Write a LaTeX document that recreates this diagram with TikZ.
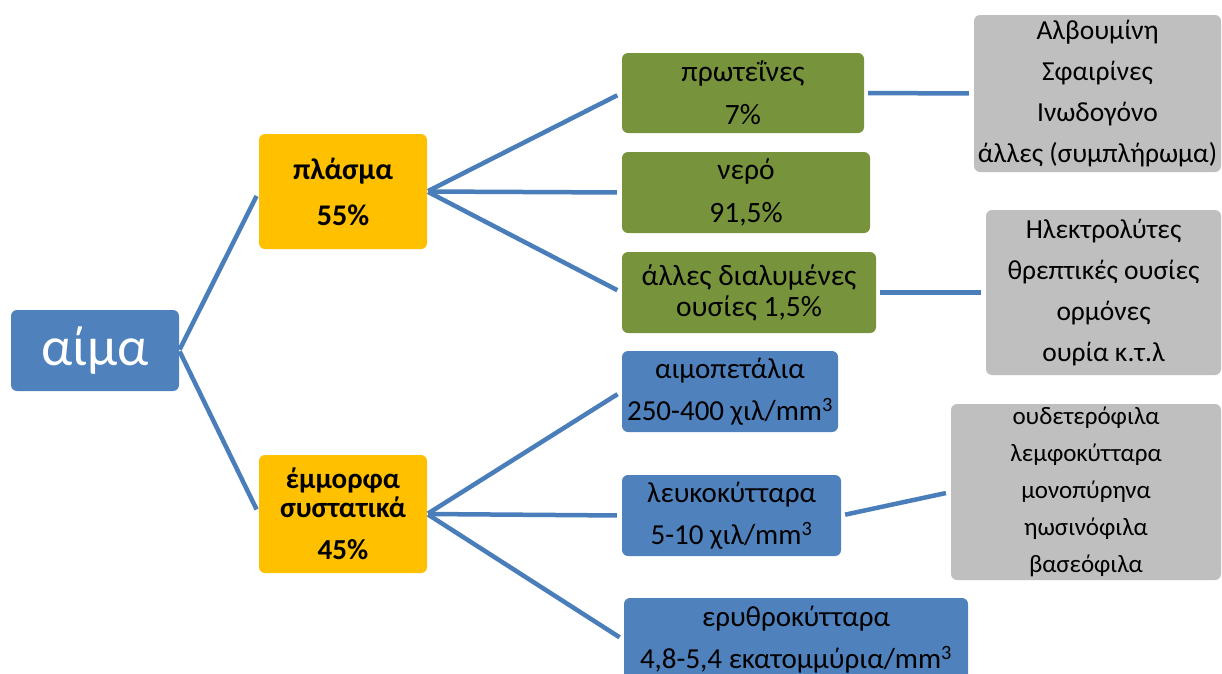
\documentclass[tikz,border=0pt]{standalone}
\usepackage{fontspec}
\setmainfont{Carlito}
\definecolor{bloodblue}{HTML}{4F81BD}
\definecolor{partgold}{HTML}{FFC000}
\definecolor{plasmagreen}{HTML}{77933C}
\definecolor{detailgray}{HTML}{BFBFBF}
\definecolor{linkblue}{HTML}{4A7EBB}
\begin{document}
\begin{tikzpicture}[x=1pt,y=-1pt,
		box/.style={rectangle,rounded corners=6pt,inner sep=0pt,align=center},
		part/.style={box,fill=partgold,font=\bfseries\fontsize{30}{46}\selectfont},
		sub/.style={box,fill=plasmagreen,font=\fontsize{29.5}{43}\selectfont},
		cell/.style={box,fill=bloodblue,font=\fontsize{29}{42}\selectfont},
		note/.style={box,fill=detailgray,font=\fontsize{27.5}{41}\selectfont},
		link/.style={draw=linkblue,line width=4.5pt,shorten <=1pt,shorten >=5pt}]
		\useasboundingbox (0,0) rectangle (1222,673);
		\node[box,fill=bloodblue,text=white,font=\fontsize{55}{60}\selectfont,
			minimum width=168pt,minimum height=81pt](aima) at (95,350.5){αίμα};
		\node[part,minimum width=168pt,minimum height=115pt](plasma) at (343,191.5){πλάσμα\\55\%};
		\node[part,font=\bfseries\fontsize{29}{29}\selectfont,minimum width=168pt,minimum height=118pt](emmorfa) at (343,514)
			{έμμορφα\\συστατικά\\[13pt]45\%};
		\node[sub,minimum width=242pt,minimum height=80pt](prot) at (743,93){πρωτεΐνες\\7\%};
		\node[sub,minimum width=248pt,minimum height=81pt](nero) at (746,192.5){νερό\\91,5\%};
		\node[sub,font=\fontsize{29.5}{31}\selectfont,minimum width=254pt,minimum height=81pt](alles) at (749,292.5)
			{άλλες διαλυμένες\\ουσίες 1,5\%};
		\node[cell,minimum width=216pt,minimum height=81pt](aimop) at (730,391.5)
			{αιμοπετάλια\\250-400 χιλ/mm\textsuperscript{3}};
		\node[cell,minimum width=219pt,minimum height=81pt](leuk) at (731.5,515.5)
			{λευκοκύτταρα\\5-10 χιλ/mm\textsuperscript{3}};
		\node[cell,minimum width=344pt,minimum height=84pt](eryth) at (796,640)
			{ερυθροκύτταρα\\4,8-5,4 εκατομμύρια/mm\textsuperscript{3}};
		\node[note,minimum width=247pt,minimum height=157pt](prnote) at (1097.5,93.5)
			{Αλβουμίνη\\Σφαιρίνες\\Ινωδογόνο\\άλλες (συμπλήρωμα)};
		\node[note,minimum width=235pt,minimum height=165pt](alnote) at (1103.5,292.5)
			{Ηλεκτρολύτες\\θρεπτικές ουσίες\\ορμόνες\\ουρία κ.τ.λ};
		\node[note,font=\fontsize{25}{37}\selectfont,minimum width=270pt,minimum height=176pt](lenote) at (1086,492)
			{ουδετερόφιλα\\λεμφοκύτταρα\\μονοπύρηνα\\ηωσινόφιλα\\βασεόφιλα};
		\draw[link] (aima.east) -- (plasma.west);
		\draw[link] (aima.east) -- (emmorfa.west);
		\draw[link] (plasma.east) -- (prot.west);
		\draw[link] (plasma.east) -- (nero.west);
		\draw[link] (plasma.east) -- (alles.west);
		\draw[link] (emmorfa.east) -- (aimop.west);
		\draw[link] (emmorfa.east) -- (leuk.west);
		\draw[link] (emmorfa.east) -- (eryth.west);
		\draw[link,shorten <=4pt] (prot.east) -- (prnote.west);
		\draw[link,shorten <=4pt] (alles.east) -- (alnote.west);
		\draw[link,shorten <=4pt] (leuk.east) -- (lenote.west);
	\end{tikzpicture}
\end{document}
